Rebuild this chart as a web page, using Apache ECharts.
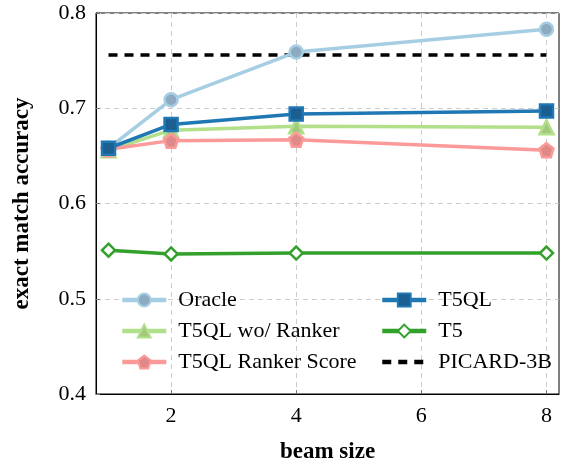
<!DOCTYPE html>
<html>
<head>
<meta charset="utf-8">
<script src="https://cdn.jsdelivr.net/npm/echarts@6/dist/echarts.min.js"></script>
<style>html,body{margin:0;padding:0;background:#fff}#c{width:565px;height:459px}</style>
</head>
<body>
<div id="c"></div>
<script>
var beamSizes = [1, 2, 4, 8];
var oracle = [0.658, 0.709, 0.759, 0.783];
var t5ql = [0.658, 0.683, 0.694, 0.697];
var t5qlNoRanker = [0.656, 0.677, 0.681, 0.680];
var rankerScore = [0.657, 0.666, 0.667, 0.656];
var t5 = [0.551, 0.547, 0.548, 0.548];
var picardX = [1, 8];
var picard = [0.756, 0.756];
var xTicks = [2, 4, 6, 8];

function pairs(xs, ys) { return xs.map(function (x, i) { return [x, ys[i]]; }); }

var FONT = 'Liberation Serif';
var pentagon = 'path://M0,-10 L9.51,-3.09 L5.88,8.09 L-5.88,8.09 L-9.51,-3.09 Z';

function mk(name, data, line, fill, symbol, size, z) {
  return {
    name: name, type: 'line', data: data, symbol: symbol, symbolSize: size, z: z,
    showSymbol: true,
    lineStyle: { color: line, width: 3.5 },
    itemStyle: { color: fill, borderColor: line, borderWidth: 2.5 },
    emphasis: { disabled: true }
  };
}

var chart = echarts.init(document.getElementById('c'), null, { renderer: 'canvas' });
var legendCommon = {
  orient: 'vertical', itemWidth: 44, itemHeight: 16, itemGap: 9,
  padding: 0,
  lineStyle: { width: 4.5 },
  textStyle: { fontFamily: FONT, fontSize: 22, color: '#000', padding: [0, 0, 0, 7] }
};
chart.setOption({
  animation: false,
  backgroundColor: '#fff',
  grid: { left: 96, right: 6, top: 13, bottom: 65, show: true, borderColor: '#000', borderWidth: 1, backgroundColor: 'transparent', containLabel: false, outerBoundsMode: 'none' },
  legend: [
    Object.assign({}, legendCommon, { left: 120, top: 289, data: ['Oracle', 'T5QL wo/ Ranker', 'T5QL Ranker Score'] }),
    Object.assign({}, legendCommon, { left: 380, top: 289, data: ['T5QL', 'T5', { name: 'PICARD-3B', itemStyle: { opacity: 0 } }] })
  ],
  xAxis: {
    type: 'value', min: 0.8, max: 8.2,
    name: 'beam size', nameLocation: 'middle', nameGap: 47,
    nameTextStyle: { fontFamily: FONT, fontSize: 23, fontWeight: 'bold', color: '#000' },
    axisLine: { show: true, lineStyle: { color: '#000', width: 1 } },
    axisTick: { show: true, inside: true, length: 4, lineStyle: { color: '#777' }, customValues: xTicks },
    axisLabel: { fontFamily: FONT, fontSize: 22, color: '#000', margin: 11, customValues: xTicks },
    splitLine: { show: true, lineStyle: { color: '#ccc', type: [5, 4], width: 1 } }
  },
  yAxis: {
    type: 'value', min: 0.4, max: 0.8, interval: 0.1,
    name: 'exact match accuracy', nameLocation: 'middle', nameGap: 62,
    nameTextStyle: { fontFamily: FONT, fontSize: 23, fontWeight: 'bold', color: '#000' },
    axisLine: { show: true, lineStyle: { color: '#000', width: 1 } },
    axisTick: { show: true, inside: true, length: 4, lineStyle: { color: '#777' } },
    axisLabel: { fontFamily: FONT, fontSize: 22, color: '#000', margin: 10, formatter: function (v) { return v.toFixed(1); } },
    splitLine: { show: true, lineStyle: { color: '#ccc', type: [5, 4], width: 1 } }
  },
  series: [
    mk('Oracle', pairs(beamSizes, oracle), '#a6cee3', '#8eaac0', 'circle', 13, 2),
    mk('T5QL wo/ Ranker', pairs(beamSizes, t5qlNoRanker), '#b2df8a', '#a2c87e', 'triangle', 14, 3),
    mk('T5QL Ranker Score', pairs(beamSizes, rankerScore), '#fb9a99', '#df8a89', pentagon, 14, 4),
    mk('T5QL', pairs(beamSizes, t5ql), '#1f78b4', '#1a5f8f', 'rect', 13, 5),
    mk('T5', pairs(beamSizes, t5), '#33a02c', '#ffffff', 'diamond', 13, 3),
    {
      name: 'PICARD-3B', type: 'line', data: pairs(picardX, picard), symbol: 'none', z: 1,
      lineStyle: { color: '#000', width: 3.5, type: [9, 7] },
      itemStyle: { color: '#000' },
      emphasis: { disabled: true }
    }
  ]
});
</script>
</body>
</html>
